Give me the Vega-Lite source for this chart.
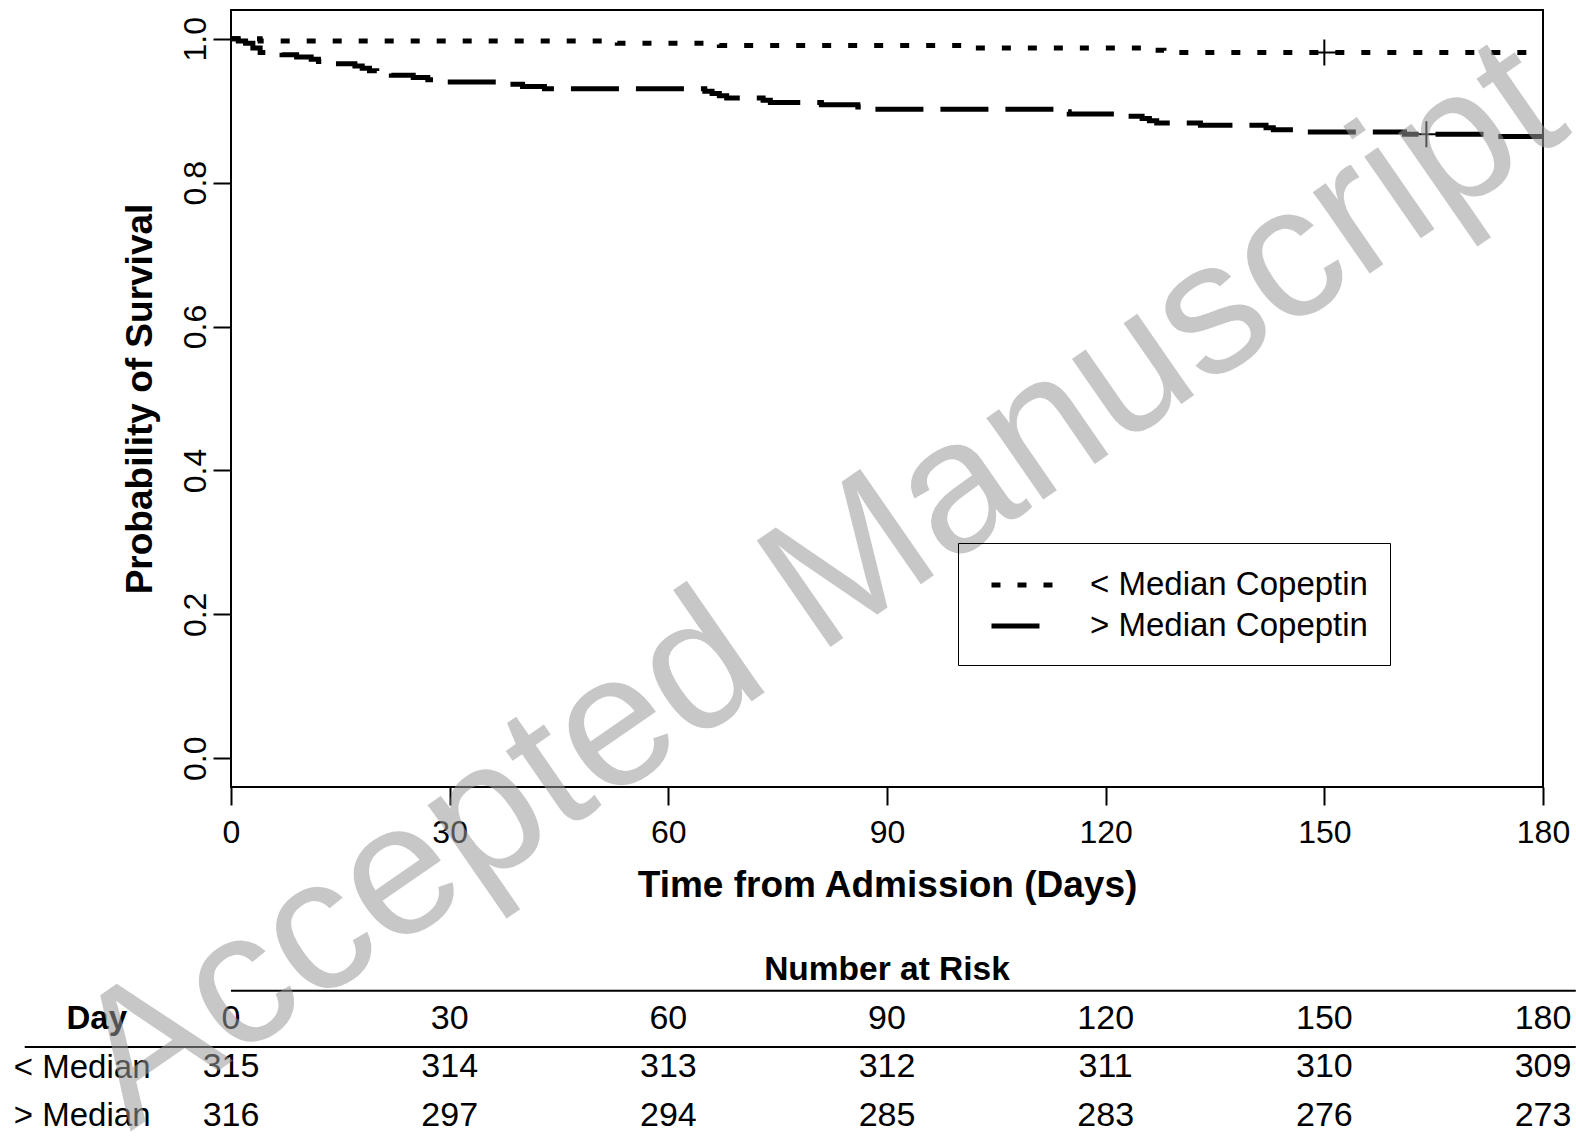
{
  "$schema": "https://vega.github.io/schema/vega-lite/v6.json",
  "padding": {"left": 13, "top": 9, "right": 0, "bottom": 0},
  "bounds": "flush",
  "spacing": 164,
  "background": "white",
  "config": {
    "font": "Liberation Sans",
    "view": {"stroke": null},
    "axis": {"labelFont": "Liberation Sans", "titleFont": "Liberation Sans", "labelColor": "black", "titleColor": "black", "tickColor": "black", "domainColor": "black", "grid": false, "labelFontWeight": "normal", "titleFontWeight": "bold"},
    "legend": {"labelFont": "Liberation Sans", "labelColor": "black"}
  },
  "datasets": {
    "curves": [
      {"group": "< Median Copeptin", "day": 0, "surv": 1.0},
      {"group": "< Median Copeptin", "day": 4, "surv": 0.9968},
      {"group": "< Median Copeptin", "day": 53, "surv": 0.9937},
      {"group": "< Median Copeptin", "day": 67, "surv": 0.9905},
      {"group": "< Median Copeptin", "day": 101, "surv": 0.9873},
      {"group": "< Median Copeptin", "day": 126, "surv": 0.9842},
      {"group": "< Median Copeptin", "day": 128, "surv": 0.981},
      {"group": "< Median Copeptin", "day": 180, "surv": 0.981},
      {"group": "> Median Copeptin", "day": 0, "surv": 1.0},
      {"group": "> Median Copeptin", "day": 1, "surv": 0.9968},
      {"group": "> Median Copeptin", "day": 2, "surv": 0.9937},
      {"group": "> Median Copeptin", "day": 3, "surv": 0.9873},
      {"group": "> Median Copeptin", "day": 4, "surv": 0.981},
      {"group": "> Median Copeptin", "day": 7, "surv": 0.9778},
      {"group": "> Median Copeptin", "day": 9, "surv": 0.9747},
      {"group": "> Median Copeptin", "day": 11, "surv": 0.9715},
      {"group": "> Median Copeptin", "day": 12, "surv": 0.9684},
      {"group": "> Median Copeptin", "day": 13, "surv": 0.9652},
      {"group": "> Median Copeptin", "day": 17, "surv": 0.962},
      {"group": "> Median Copeptin", "day": 18, "surv": 0.9589},
      {"group": "> Median Copeptin", "day": 19, "surv": 0.9557},
      {"group": "> Median Copeptin", "day": 20, "surv": 0.9525},
      {"group": "> Median Copeptin", "day": 22, "surv": 0.9494},
      {"group": "> Median Copeptin", "day": 25, "surv": 0.9462},
      {"group": "> Median Copeptin", "day": 27, "surv": 0.943},
      {"group": "> Median Copeptin", "day": 28, "surv": 0.9399},
      {"group": "> Median Copeptin", "day": 37, "surv": 0.9367},
      {"group": "> Median Copeptin", "day": 40, "surv": 0.9335},
      {"group": "> Median Copeptin", "day": 43, "surv": 0.9304},
      {"group": "> Median Copeptin", "day": 65, "surv": 0.9272},
      {"group": "> Median Copeptin", "day": 66, "surv": 0.924},
      {"group": "> Median Copeptin", "day": 67, "surv": 0.9209},
      {"group": "> Median Copeptin", "day": 68, "surv": 0.9177},
      {"group": "> Median Copeptin", "day": 73, "surv": 0.9146},
      {"group": "> Median Copeptin", "day": 74, "surv": 0.9114},
      {"group": "> Median Copeptin", "day": 81, "surv": 0.9082},
      {"group": "> Median Copeptin", "day": 86, "surv": 0.9051},
      {"group": "> Median Copeptin", "day": 87, "surv": 0.9019},
      {"group": "> Median Copeptin", "day": 113, "surv": 0.8987},
      {"group": "> Median Copeptin", "day": 115, "surv": 0.8956},
      {"group": "> Median Copeptin", "day": 123, "surv": 0.8924},
      {"group": "> Median Copeptin", "day": 125, "surv": 0.8892},
      {"group": "> Median Copeptin", "day": 126, "surv": 0.8861},
      {"group": "> Median Copeptin", "day": 127, "surv": 0.8829},
      {"group": "> Median Copeptin", "day": 133, "surv": 0.8797},
      {"group": "> Median Copeptin", "day": 142, "surv": 0.8765},
      {"group": "> Median Copeptin", "day": 143, "surv": 0.8734},
      {"group": "> Median Copeptin", "day": 146, "surv": 0.8705},
      {"group": "> Median Copeptin", "day": 161, "surv": 0.8673},
      {"group": "> Median Copeptin", "day": 172, "surv": 0.8642},
      {"group": "> Median Copeptin", "day": 180, "surv": 0.8642}
    ],
    "censor": [
      {"group": "< Median Copeptin", "day": 150, "surv": 0.981},
      {"group": "> Median Copeptin", "day": 164, "surv": 0.8673}
    ],
    "risk": [
      {"row": 1, "day": 0, "text": "0"},
      {"row": 1, "day": 30, "text": "30"},
      {"row": 1, "day": 60, "text": "60"},
      {"row": 1, "day": 90, "text": "90"},
      {"row": 1, "day": 120, "text": "120"},
      {"row": 1, "day": 150, "text": "150"},
      {"row": 1, "day": 180, "text": "180"},
      {"row": 2, "day": 0, "text": "315"},
      {"row": 2, "day": 30, "text": "314"},
      {"row": 2, "day": 60, "text": "313"},
      {"row": 2, "day": 90, "text": "312"},
      {"row": 2, "day": 120, "text": "311"},
      {"row": 2, "day": 150, "text": "310"},
      {"row": 2, "day": 180, "text": "309"},
      {"row": 3, "day": 0, "text": "316"},
      {"row": 3, "day": 30, "text": "297"},
      {"row": 3, "day": 60, "text": "294"},
      {"row": 3, "day": 90, "text": "285"},
      {"row": 3, "day": 120, "text": "283"},
      {"row": 3, "day": 150, "text": "276"},
      {"row": 3, "day": 180, "text": "273"}
    ]
  },
  "vconcat": [
    {
      "width": 1312,
      "height": 777,
      "view": {"stroke": "black", "strokeWidth": 2},
      "encoding": {
        "x": {"field": "day", "type": "quantitative", "scale": {"domain": [0, 180], "nice": false, "zero": false},
          "axis": {"values": [0, 30, 60, 90, 120, 150, 180], "title": "Time from Admission (Days)", "titleFontSize": 37, "labelFontSize": 32, "tickSize": 18, "tickWidth": 2, "domain": false, "labelPadding": 12, "titlePadding": 19, "labelFlush": false}},
        "y": {"field": "surv", "type": "quantitative", "scale": {"domain": [-0.04, 1.04], "nice": false, "zero": false},
          "axis": {"values": [0, 0.2, 0.4, 0.6, 0.8, 1.0], "format": ".1f", "labelAngle": 270, "labelAlign": "center", "labelBaseline": "alphabetic", "labelPadding": 8, "labelFontSize": 32, "tickSize": 18, "tickWidth": 2, "domain": false, "title": "Probability of Survival", "titleFontSize": 37, "titlePadding": 20}}
      },
      "layer": [
        {
          "data": {"name": "curves"},
          "mark": {"type": "line", "interpolate": "step-after", "color": "black", "strokeWidth": 5, "strokeCap": "butt"},
          "encoding": {
            "strokeDash": {"field": "group", "type": "nominal",
              "scale": {"domain": ["< Median Copeptin", "> Median Copeptin"], "range": [[9, 17], [48, 17]]},
              "legend": {"title": null, "orient": "none", "legendX": 727, "legendY": 533, "strokeColor": "black", "padding": 22,
                "symbolType": "M-0.486,0H3.114", "symbolSize": 1225, "symbolStrokeWidth": 5, "symbolStrokeColor": "black",
                "labelFontSize": 33, "labelOffset": 70, "labelLimit": 600, "rowPadding": 4}}
          }
        },
        {
          "data": {"name": "censor"},
          "mark": {"type": "point", "shape": "M-1,0H1M0,-1V1", "size": 676, "filled": false, "stroke": "black", "strokeWidth": 2, "opacity": 1}
        }
      ]
    },
    {
      "width": 1312,
      "height": 190,
      "layer": [
        {
          "data": {"name": "risk"},
          "mark": {"type": "text", "fontSize": 34, "align": "center", "baseline": "middle", "color": "black", "clip": false},
          "encoding": {
            "x": {"field": "day", "type": "quantitative", "scale": {"domain": [0, 180], "nice": false, "zero": false}, "axis": null},
            "y": {"field": "row", "type": "quantitative", "scale": {"domain": [-0.4, 3.52], "reverse": true, "nice": false, "zero": false},
              "axis": {"values": [2, 3], "labelExpr": "datum.value == 2 ? '< Median' : '> Median'", "labelFontSize": 33, "labelPadding": 81, "labelAlign": "right", "labelBaseline": "middle", "ticks": false, "domain": false, "title": null, "grid": false}},
            "text": {"field": "text"}
          }
        },
        {
          "data": {"values": [{"text": "Number at Risk"}]},
          "mark": {"type": "text", "fontSize": 33.5, "fontWeight": "bold", "align": "center", "baseline": "middle", "color": "black", "clip": false},
          "encoding": {
            "x": {"datum": 90, "type": "quantitative", "scale": {"domain": [0, 180], "nice": false, "zero": false}},
            "y": {"datum": 0, "type": "quantitative", "scale": {"domain": [-0.4, 3.52], "reverse": true, "nice": false, "zero": false}},
            "text": {"field": "text"}
          }
        },
        {
          "data": {"values": [{"text": "Day"}]},
          "mark": {"type": "text", "fontSize": 33, "fontWeight": "bold", "align": "right", "baseline": "middle", "color": "black", "clip": false},
          "encoding": {
            "x": {"datum": -14.27, "type": "quantitative", "scale": {"domain": [0, 180], "nice": false, "zero": false}},
            "y": {"datum": 1, "type": "quantitative", "scale": {"domain": [-0.4, 3.52], "reverse": true, "nice": false, "zero": false}},
            "text": {"field": "text"}
          }
        },
        {
          "data": {"values": [{"text": "line"}]},
          "mark": {"type": "rule", "color": "black", "strokeWidth": 2, "clip": false},
          "encoding": {
            "x": {"datum": 0, "type": "quantitative", "scale": {"domain": [0, 180], "nice": false, "zero": false}},
            "x2": {"datum": 184.5},
            "y": {"datum": 0.42, "type": "quantitative", "scale": {"domain": [-0.4, 3.52], "reverse": true, "nice": false, "zero": false}}
          }
        },
        {
          "data": {"values": [{"text": "line"}]},
          "mark": {"type": "rule", "color": "black", "strokeWidth": 2, "clip": false},
          "encoding": {
            "x": {"datum": -28.3, "type": "quantitative", "scale": {"domain": [0, 180], "nice": false, "zero": false}},
            "x2": {"datum": 184.5},
            "y": {"datum": 1.58, "type": "quantitative", "scale": {"domain": [-0.4, 3.52], "reverse": true, "nice": false, "zero": false}}
          }
        },
        {
          "data": {"values": [{"text": "Accepted Manuscript"}]},
          "mark": {"type": "text", "fontSize": 188, "angle": -34.7, "align": "center", "baseline": "alphabetic", "color": "#9a9a9a", "opacity": 0.55, "clip": false},
          "encoding": {
            "x": {"datum": 85.2, "type": "quantitative", "scale": {"domain": [0, 180], "nice": false, "zero": false}},
            "y": {"datum": -6.98, "type": "quantitative", "scale": {"domain": [-0.4, 3.52], "reverse": true, "nice": false, "zero": false}},
            "text": {"field": "text"}
          }
        }
      ]
    }
  ]
}
